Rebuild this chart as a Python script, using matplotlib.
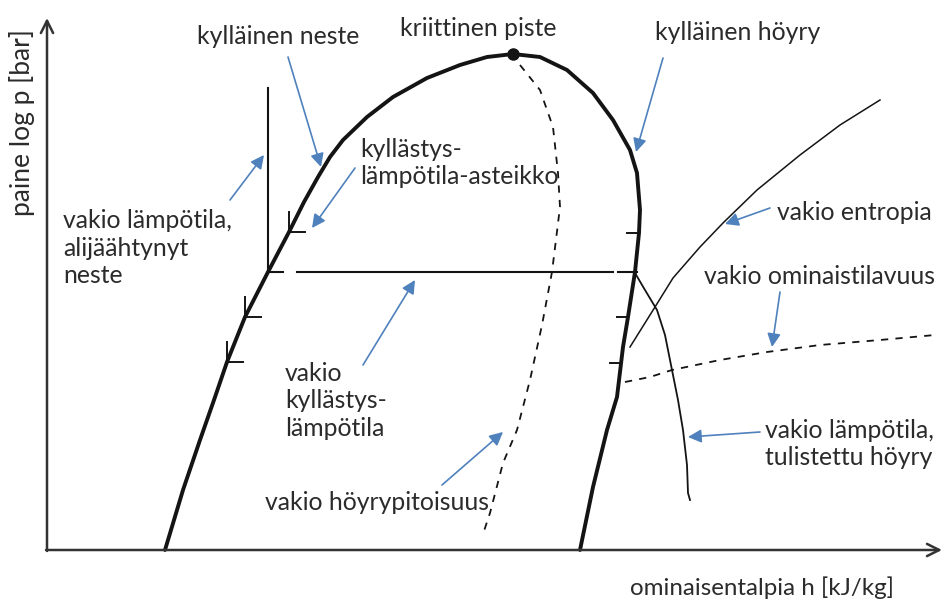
import matplotlib
matplotlib.use("Agg")
import matplotlib.pyplot as plt

# Schematic log p-h diagram, drawn in a 944 x 600 canvas coordinate system
# (x = enthalpy to the right, y = pressure growing upwards, origin top-left)

liquid_h = [165, 174, 183, 200, 214, 227, 245, 268, 289, 304, 318, 330, 343, 367, 393, 427, 460, 487, 513]
liquid_p = [550, 520, 490, 440, 400, 362, 317, 272, 232, 202, 177, 157, 140, 117, 97, 78, 65, 57, 54]

vapour_h = [513, 540, 567, 593, 613, 630, 637, 640, 639, 635, 628, 623, 617, 607, 593, 580]
vapour_p = [54, 57, 70, 93, 120, 150, 173, 210, 233, 272, 317, 347, 397, 430, 487, 550]

quality_h = [520, 540, 553, 558, 560, 552, 542, 530, 517, 503, 490, 483]
quality_p = [65, 90, 127, 173, 207, 272, 325, 380, 430, 463, 513, 534]

entropy_h = [630, 655, 673, 700, 723, 757, 800, 840, 880]
entropy_p = [347, 307, 278, 247, 223, 190, 155, 125, 100]

volume_h = [625, 650, 672, 720, 767, 820, 880, 935]
volume_p = [382, 377, 370, 360, 352, 345, 340, 335]

superheat_h = [635, 645, 657, 665, 672, 678, 683, 687, 688, 690]
superheat_p = [273, 290, 310, 335, 370, 400, 430, 465, 493, 500]

# constant temperature in the subcooled region and across the two-phase region
subcool_h = [268, 268]
subcool_p = [88, 272]
isotherm_segments = [(268, 283), (297, 613), (618, 637)]
isotherm_p = 272

# saturation temperature scale ticks
liq_tick_h = [289, 245, 227]
liq_tick_p = [232, 317, 362]
vap_tick_h = [638, 628, 621]
vap_tick_p = [233, 317, 363]

critical = (513, 54)

# label text, anchor (left, centre y), arrow tail, arrow head
labels = [
    ("kylläinen neste", (197, 37), (288, 57), (321, 167)),
    ("kriittinen piste", (400, 28), None, None),
    ("kylläinen höyry", (655, 33), (663, 58), (636, 152)),
    ("kyllästys-\nlämpötila-asteikko", (360, 163), (355, 168), (312, 228)),
    ("vakio lämpötila,\nalijäähtynyt\nneste", (63, 248), (230, 200), (264, 155)),
    ("vakio\nkyllästys-\nlämpötila", (285, 401), (363, 365), (415, 280)),
    ("vakio höyrypitoisuus", (265, 503), (442, 485), (503, 432)),
    ("vakio entropia", (777, 212), (770, 208), (725, 224)),
    ("vakio ominaistilavuus", (704, 277), (780, 292), (772, 347)),
    ("vakio lämpötila,\ntulistettu höyry", (765, 444), (760, 432), (688, 437)),
]

INK = "#141414"
TEXT = "#2b2b2b"
BLUE = "#4f81bd"
FONT = "Lato"

fig = plt.figure(figsize=(9.44, 6.0), dpi=100)
ax = fig.add_axes([0, 0, 1, 1])
ax.set_xlim(0, 944)
ax.set_ylim(600, 0)
ax.axis("off")

# axes with open arrow heads
axis_kw = dict(arrowstyle="->", lw=1.8, color="#333333", mutation_scale=22,
               shrinkA=0, shrinkB=0)
ax.annotate("", xy=(47, 18), xytext=(47, 551), arrowprops=axis_kw)
ax.annotate("", xy=(942, 550), xytext=(46, 550), arrowprops=axis_kw)
ax.text(22, 123, "paine log p [bar]", rotation=90, ha="center", va="center",
        fontsize=19, color=TEXT, family=FONT)
ax.text(762, 588, "ominaisentalpia h [kJ/kg]", ha="center", va="center",
        fontsize=17.4, color=TEXT, family=FONT)

# saturation dome
ax.plot(liquid_h, liquid_p, color=INK, lw=2.8, solid_capstyle="round",
        solid_joinstyle="round")
ax.plot(vapour_h, vapour_p, color=INK, lw=2.8, solid_capstyle="round",
        solid_joinstyle="round")
ax.plot(*critical, "o", color=INK, ms=8)

# property lines
ax.plot(quality_h, quality_p, color=INK, lw=1.3, ls=(0, (4, 4)))
ax.plot(entropy_h, entropy_p, color=INK, lw=1.1)
ax.plot(volume_h, volume_p, color=INK, lw=1.3, ls=(0, (4, 4)))
ax.plot(superheat_h, superheat_p, color=INK, lw=1.3)
ax.plot(subcool_h, subcool_p, color=INK, lw=1.5)
for h0, h1 in isotherm_segments:
    ax.plot([h0, h1], [isotherm_p, isotherm_p], color=INK, lw=1.5)

for h, p in zip(liq_tick_h, liq_tick_p):
    ax.plot([h, h, h + 16], [p - 20, p, p], color=INK, lw=1.4)
for h, p in zip(vap_tick_h, vap_tick_p):
    ax.plot([h - 11, h], [p, p], color=INK, lw=1.4)

# labels with pointer arrows
for text, (tx, ty), tail, head in labels:
    ax.text(tx, ty, text, ha="left", va="center", fontsize=17.8, color=TEXT,
            family=FONT, linespacing=1.25)
    if tail is not None:
        ax.annotate("", xy=head, xytext=tail,
                    arrowprops=dict(arrowstyle="-|>", color=BLUE, lw=1.2,
                                    mutation_scale=20, shrinkA=0, shrinkB=0))

fig.savefig("out.png", dpi=100, facecolor="white")
